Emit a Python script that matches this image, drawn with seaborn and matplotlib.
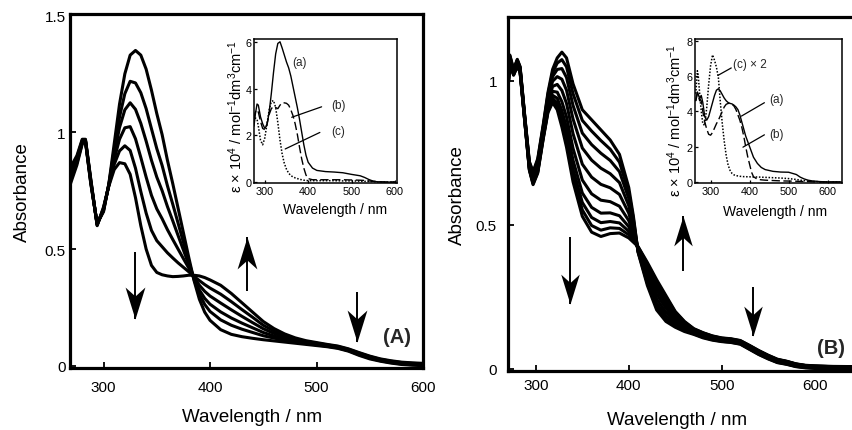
import matplotlib
matplotlib.use("Agg")
import matplotlib.pyplot as plt
from matplotlib.path import Path
import pandas as pd
import seaborn as sns

sns.set_theme(style="ticks")
plt.rcParams["font.family"] = ["Liberation Sans", "DejaVu Sans"]
plt.rcParams["mathtext.fontset"] = "custom"
plt.rcParams["mathtext.rm"] = "Liberation Sans"
plt.rcParams["mathtext.it"] = "Liberation Sans:italic"
plt.rcParams["mathtext.default"] = "regular"

# ---------------- panel (A): absorbance spectra during the reaction ----------------
nm_a = [269, 275, 280, 283, 288, 294, 300, 305, 310, 315, 320, 325, 330, 335, 340,
        345, 350, 355, 360, 365, 370, 375, 380, 385, 390, 395, 400, 410, 420, 430,
        440, 450, 460, 470, 480, 490, 500, 510, 520, 530, 540, 550, 560, 570, 580,
        590, 600]
abs_a0 = [0.78, 0.86, 0.95, 0.96, 0.78, 0.61, 0.66, 0.78, 0.95, 1.12, 1.25, 1.33, 1.35, 1.33, 1.27,
          1.18, 1.08, 0.99, 0.88, 0.78, 0.675, 0.57, 0.465, 0.365, 0.285, 0.23, 0.195, 0.155, 0.135, 0.125,
          0.118, 0.112, 0.107, 0.102, 0.097, 0.092, 0.087, 0.082, 0.075, 0.063, 0.045, 0.030, 0.020, 0.012, 0.006,
          0.003, 0.001]
abs_a1 = [0.795, 0.869, 0.954, 0.962, 0.784, 0.608, 0.664, 0.778, 0.926, 1.065, 1.165, 1.218, 1.211, 1.169, 1.101,
          1.015, 0.930, 0.858, 0.771, 0.692, 0.611, 0.529, 0.448, 0.370, 0.307, 0.263, 0.233, 0.197, 0.174, 0.157,
          0.143, 0.129, 0.119, 0.110, 0.102, 0.096, 0.090, 0.084, 0.077, 0.065, 0.048, 0.033, 0.022, 0.014, 0.008,
          0.005, 0.003]
abs_a2 = [0.808, 0.876, 0.958, 0.964, 0.788, 0.606, 0.668, 0.776, 0.906, 1.020, 1.096, 1.126, 1.098, 1.038, 0.962,
          0.880, 0.808, 0.750, 0.682, 0.621, 0.558, 0.496, 0.434, 0.374, 0.325, 0.289, 0.264, 0.231, 0.205, 0.183,
          0.163, 0.143, 0.128, 0.116, 0.106, 0.098, 0.092, 0.086, 0.079, 0.067, 0.050, 0.035, 0.024, 0.016, 0.010,
          0.007, 0.005]
abs_a3 = [0.822, 0.884, 0.962, 0.966, 0.792, 0.604, 0.672, 0.774, 0.884, 0.970, 1.019, 1.024, 0.972, 0.892, 0.808,
          0.730, 0.672, 0.630, 0.583, 0.541, 0.500, 0.459, 0.419, 0.379, 0.345, 0.319, 0.299, 0.269, 0.240, 0.212,
          0.185, 0.159, 0.139, 0.123, 0.111, 0.102, 0.095, 0.088, 0.081, 0.069, 0.052, 0.037, 0.026, 0.018, 0.012,
          0.009, 0.007]
abs_a4 = [0.836, 0.892, 0.966, 0.968, 0.796, 0.602, 0.676, 0.772, 0.862, 0.920, 0.942, 0.922, 0.846, 0.746, 0.654,
          0.580, 0.536, 0.510, 0.484, 0.462, 0.441, 0.422, 0.403, 0.383, 0.365, 0.348, 0.333, 0.307, 0.275, 0.241,
          0.208, 0.174, 0.149, 0.130, 0.115, 0.105, 0.097, 0.090, 0.083, 0.071, 0.055, 0.040, 0.028, 0.020, 0.014,
          0.011, 0.009]
abs_a5 = [0.85, 0.90, 0.97, 0.97, 0.80, 0.60, 0.68, 0.77, 0.84, 0.87, 0.865, 0.82, 0.72, 0.60, 0.50,
          0.43, 0.40, 0.39, 0.385, 0.382, 0.383, 0.385, 0.388, 0.388, 0.385, 0.378, 0.368, 0.345, 0.31, 0.27,
          0.23, 0.19, 0.16, 0.137, 0.12, 0.108, 0.100, 0.092, 0.085, 0.073, 0.057, 0.042, 0.030, 0.022, 0.016,
          0.013, 0.011]
spectra_a = [abs_a0, abs_a1, abs_a2, abs_a3, abs_a4, abs_a5]

# ---------------- panel (B) ----------------
nm_b = [270, 272, 276, 280, 283, 288, 293, 297, 302, 308, 313, 318, 323, 328, 333,
        340, 350, 360, 370, 380, 390, 400, 405, 410, 420, 430, 440, 450, 460, 470,
        480, 490, 500, 510, 520, 530, 540, 550, 560, 570, 580, 590, 600, 620, 650]
abs_b0 = [1.00, 1.09, 1.04, 1.075, 1.05, 0.88, 0.72, 0.685, 0.73, 0.85, 0.96, 1.04, 1.08, 1.10, 1.08,
          0.99, 0.90, 0.865, 0.83, 0.795, 0.745, 0.63, 0.53, 0.405, 0.29, 0.205, 0.165, 0.145, 0.13, 0.12,
          0.108, 0.100, 0.095, 0.092, 0.086, 0.068, 0.050, 0.035, 0.022, 0.016, 0.008, 0.004, 0.002, 0.000, 0.000]
abs_b1 = [0.997, 1.087, 1.038, 1.073, 1.048, 0.878, 0.717, 0.681, 0.725, 0.845, 0.953, 1.029, 1.062, 1.074, 1.049,
          0.956, 0.863, 0.826, 0.793, 0.763, 0.718, 0.613, 0.521, 0.407, 0.298, 0.216, 0.174, 0.151, 0.134, 0.122,
          0.110, 0.102, 0.096, 0.093, 0.087, 0.069, 0.051, 0.036, 0.023, 0.017, 0.009, 0.005, 0.003, 0.001, 0.001]
abs_b2 = [0.993, 1.083, 1.036, 1.070, 1.046, 0.876, 0.713, 0.675, 0.719, 0.839, 0.945, 1.015, 1.040, 1.043, 1.012,
          0.915, 0.819, 0.779, 0.749, 0.724, 0.685, 0.592, 0.510, 0.409, 0.308, 0.228, 0.185, 0.157, 0.138, 0.124,
          0.112, 0.103, 0.098, 0.095, 0.089, 0.071, 0.053, 0.038, 0.025, 0.018, 0.010, 0.006, 0.004, 0.002, 0.002]
abs_b3 = [0.989, 1.079, 1.033, 1.066, 1.043, 0.873, 0.709, 0.669, 0.712, 0.832, 0.935, 0.999, 1.015, 1.006, 0.968,
          0.868, 0.767, 0.725, 0.697, 0.678, 0.647, 0.567, 0.498, 0.412, 0.319, 0.243, 0.197, 0.165, 0.143, 0.127,
          0.114, 0.105, 0.100, 0.097, 0.091, 0.073, 0.055, 0.040, 0.026, 0.020, 0.012, 0.007, 0.005, 0.003, 0.003]
abs_b4 = [0.985, 1.075, 1.030, 1.062, 1.040, 0.870, 0.705, 0.662, 0.705, 0.825, 0.924, 0.981, 0.988, 0.967, 0.922,
          0.817, 0.711, 0.666, 0.641, 0.629, 0.606, 0.541, 0.484, 0.415, 0.331, 0.259, 0.211, 0.173, 0.148, 0.130,
          0.117, 0.108, 0.102, 0.099, 0.093, 0.075, 0.057, 0.042, 0.028, 0.022, 0.013, 0.009, 0.007, 0.005, 0.004]
abs_b5 = [0.980, 1.070, 1.027, 1.059, 1.037, 0.867, 0.700, 0.655, 0.697, 0.817, 0.914, 0.964, 0.961, 0.928, 0.875,
          0.766, 0.656, 0.608, 0.586, 0.581, 0.565, 0.515, 0.471, 0.418, 0.343, 0.274, 0.224, 0.181, 0.153, 0.133,
          0.120, 0.110, 0.104, 0.101, 0.095, 0.077, 0.059, 0.044, 0.030, 0.023, 0.015, 0.010, 0.008, 0.006, 0.005]
abs_b6 = [0.977, 1.067, 1.024, 1.056, 1.034, 0.864, 0.697, 0.650, 0.691, 0.811, 0.905, 0.950, 0.940, 0.897, 0.838,
          0.725, 0.611, 0.561, 0.541, 0.542, 0.532, 0.494, 0.460, 0.421, 0.352, 0.287, 0.235, 0.188, 0.157, 0.136,
          0.122, 0.112, 0.105, 0.102, 0.096, 0.079, 0.061, 0.045, 0.031, 0.025, 0.016, 0.011, 0.009, 0.007, 0.006]
abs_b7 = [0.974, 1.064, 1.023, 1.053, 1.033, 0.863, 0.694, 0.646, 0.687, 0.807, 0.899, 0.940, 0.923, 0.874, 0.810,
          0.694, 0.578, 0.526, 0.508, 0.512, 0.507, 0.478, 0.452, 0.422, 0.360, 0.296, 0.243, 0.193, 0.160, 0.137,
          0.124, 0.113, 0.106, 0.103, 0.097, 0.080, 0.062, 0.046, 0.032, 0.026, 0.017, 0.012, 0.010, 0.008, 0.007]
abs_b8 = [0.972, 1.062, 1.021, 1.052, 1.031, 0.861, 0.692, 0.643, 0.683, 0.803, 0.894, 0.932, 0.911, 0.856, 0.789,
          0.670, 0.552, 0.498, 0.482, 0.490, 0.488, 0.466, 0.445, 0.424, 0.365, 0.304, 0.250, 0.197, 0.163, 0.139,
          0.125, 0.114, 0.107, 0.104, 0.098, 0.081, 0.063, 0.047, 0.033, 0.026, 0.017, 0.012, 0.010, 0.008, 0.008]
abs_b9 = [0.97, 1.06, 1.02, 1.05, 1.03, 0.86, 0.69, 0.64, 0.68, 0.80, 0.89, 0.925, 0.90, 0.84, 0.77,
          0.65, 0.53, 0.475, 0.46, 0.47, 0.472, 0.455, 0.44, 0.425, 0.37, 0.31, 0.255, 0.20, 0.165, 0.14,
          0.126, 0.115, 0.108, 0.105, 0.099, 0.082, 0.064, 0.048, 0.034, 0.027, 0.018, 0.013, 0.011, 0.009, 0.008]
spectra_b = [abs_b0, abs_b1, abs_b2, abs_b3, abs_b4, abs_b5, abs_b6, abs_b7, abs_b8, abs_b9]

# ---------------- inset (A): molar absorptivity of the species ----------------
nm_ia = [275, 278, 282, 285, 290, 295, 300, 305, 310, 315, 320, 325, 330, 335, 340,
         345, 350, 355, 360, 365, 370, 375, 380, 385, 390, 395, 400, 410, 420, 440,
         460, 480, 500, 520, 530, 540, 550, 560, 580, 600]
eps_ia_a = [2.4, 2.9, 3.35, 3.3, 2.8, 2.5, 2.3, 2.45, 3.0, 3.8, 4.7, 5.5, 5.95, 6.02, 5.75,
            5.45, 5.15, 4.9, 4.55, 4.1, 3.65, 3.2, 2.7, 2.15, 1.6, 1.15, 0.85, 0.6, 0.5, 0.45,
            0.43, 0.4, 0.33, 0.27, 0.2, 0.11, 0.04, 0.01, 0.0, 0.0]
eps_ia_b = [2.7, 3.0, 3.1, 3.0, 2.6, 2.3, 2.25, 2.5, 2.9, 3.15, 3.25, 3.2, 3.15, 3.3, 3.4,
            3.4, 3.38, 3.3, 3.1, 2.85, 2.5, 2.05, 1.5, 1.0, 0.6, 0.3, 0.15, 0.1, 0.1, 0.1,
            0.1, 0.1, 0.09, 0.08, 0.07, 0.05, 0.03, 0.02, 0.0, 0.0]
eps_ia_c = [2.6, 2.75, 2.7, 2.4, 1.8, 1.6, 1.9, 2.5, 3.1, 3.45, 3.5, 3.2, 2.55, 1.8, 1.2,
            0.8, 0.55, 0.38, 0.28, 0.22, 0.18, 0.15, 0.12, 0.1, 0.08, 0.07, 0.06, 0.06, 0.06, 0.06,
            0.06, 0.05, 0.05, 0.04, 0.03, 0.03, 0.02, 0.01, 0.0, 0.0]

# ---------------- inset (B) ----------------
nm_ib = [262, 266, 268, 272, 276, 280, 285, 290, 295, 300, 305, 310, 315, 320, 325,
         330, 335, 340, 345, 350, 355, 360, 365, 370, 375, 380, 385, 390, 395, 400,
         405, 410, 420, 430, 440, 460, 480, 500, 520, 530, 540, 550, 560, 580, 600,
         620, 636]
eps_ib_a = [4.6, 5.1, 5.0, 4.7, 4.9, 4.5, 3.7, 3.5, 3.7, 4.1, 4.5, 4.9, 5.2, 5.28, 5.15,
            4.95, 4.75, 4.6, 4.5, 4.45, 4.42, 4.35, 4.25, 4.1, 3.8, 3.4, 3.0, 2.6, 2.3, 2.0,
            1.7, 1.4, 1.05, 0.82, 0.7, 0.6, 0.56, 0.55, 0.42, 0.27, 0.17, 0.1, 0.06, 0.02, 0.0,
            0.0, 0.0]
eps_ib_b = [4.6, 5.0, 4.9, 4.6, 4.6, 4.0, 3.4, 3.0, 2.7, 2.65, 2.8, 3.05, 3.3, 3.5, 3.75,
            4.0, 4.25, 4.4, 4.45, 4.45, 4.4, 4.3, 4.1, 3.8, 3.5, 3.1, 2.6, 2.0, 1.45, 1.0,
            0.55, 0.3, 0.15, 0.12, 0.1, 0.08, 0.06, 0.05, 0.04, 0.03, 0.02, 0.02, 0.01, 0.0, 0.0,
            0.0, 0.0]
eps_ib_c2 = [5.0, 6.3, 6.1, 5.0, 4.0, 3.3, 3.2, 4.2, 5.5, 6.6, 7.2, 6.9, 6.5, 5.9, 4.5,
             3.3, 2.3, 1.5, 0.95, 0.65, 0.48, 0.4, 0.36, 0.34, 0.32, 0.31, 0.3, 0.3, 0.29, 0.29,
             0.28, 0.28, 0.28, 0.27, 0.26, 0.24, 0.22, 0.19, 0.14, 0.1, 0.07, 0.05, 0.03, 0.01, 0.0,
             0.0, 0.0]

# tick positions and labels
wl_ticks = [300, 400, 500, 600]
abs_ticks_a = [0, 0.5, 1, 1.5]
abs_labels_a = ["0", "0.5", "1", "1.5"]
abs_ticks_b = [0, 0.5, 1]
abs_labels_b = ["0", "0.5", "1"]
eps_ticks_a = [0, 2, 4, 6]
eps_ticks_b = [0, 2, 4, 6, 8]

# arrows showing the direction of change: (wavelength, start, end)
arrows_a = [(329.5, 0.488, 0.201), (434.7, 0.321, 0.552), (538.0, 0.317, 0.103)]
arrows_b = [(336.7, 0.458, 0.226), (458.0, 0.340, 0.531), (533.4, 0.285, 0.115)]

EPS_LABEL = "ε × 10$^4$ / mol$^{-1}$dm$^3$cm$^{-1}$"

# notched (stealth) arrow heads, tip at the origin
_codes = [Path.MOVETO, Path.LINETO, Path.LINETO, Path.LINETO, Path.CLOSEPOLY]
HEAD_DOWN = Path([(0, 0), (-0.31, 1.0), (0, 0.72), (0.31, 1.0), (0, 0)], _codes)
HEAD_UP = Path([(0, 0), (-0.31, -1.0), (0, -0.72), (0.31, -1.0), (0, 0)], _codes)


def long_form(nm, curves):
    frames = [pd.DataFrame({"nm": nm, "A": vals, "run": k}) for k, vals in enumerate(curves)]
    return pd.concat(frames, ignore_index=True)


def style_main(ax, xpad, ypad):
    for sp in ax.spines.values():
        sp.set_linewidth(2.3)
        sp.set_color("black")
    ax.tick_params(direction="in", length=4, width=1.3, colors="black", labelsize=11)
    ax.tick_params(axis="x", pad=xpad)
    ax.tick_params(axis="y", pad=ypad)
    ax.set_xticks(wl_ticks)
    ax.set_xticklabels([str(t) for t in wl_ticks])


def style_inset(ax):
    for sp in ax.spines.values():
        sp.set_linewidth(1.1)
        sp.set_color("black")
    ax.tick_params(direction="in", length=2.5, width=0.9, colors="black", labelsize=7.8)
    ax.tick_params(axis="x", pad=2.5)
    ax.tick_params(axis="y", pad=1.5)
    ax.set_xticks(wl_ticks)
    ax.set_xticklabels([str(t) for t in wl_ticks])


def draw_arrows(ax, arrows, size):
    for x, y0, y1 in arrows:
        ax.plot([x, x], [y0, y1], color="black", lw=1.4, solid_capstyle="butt")
        head = HEAD_DOWN if y1 < y0 else HEAD_UP
        ax.plot([x], [y1], marker=head, markersize=size, color="black",
                markeredgewidth=0, linestyle="none")


fig = plt.figure(figsize=(8.52, 4.31), dpi=100)
W, H = 852.0, 431.0

ax_a = fig.add_axes([70 / W, 1 - 369 / H, 353 / W, 354 / H])
ax_b = fig.add_axes([508 / W, 1 - 372 / H, 353 / W, 354 / H])
ins_a = fig.add_axes([254 / W, 1 - 184 / H, 143 / W, 144 / H])
ins_b = fig.add_axes([695 / W, 1 - 184 / H, 147 / W, 144 / H])

# main spectra
sns.lineplot(data=long_form(nm_a, spectra_a), x="nm", y="A", units="run", estimator=None,
             color="black", lw=2.2, sort=False, legend=False, ax=ax_a)
sns.lineplot(data=long_form(nm_b, spectra_b), x="nm", y="A", units="run", estimator=None,
             color="black", lw=2.2, sort=False, legend=False, ax=ax_b)

ax_a.set_xlim(268.5, 600)
ax_a.set_ylim(-0.009, 1.506)
ax_b.set_xlim(270, 650)
ax_b.set_ylim(-0.007, 1.222)

style_main(ax_a, xpad=9, ypad=3)
style_main(ax_b, xpad=5, ypad=8)
ax_a.set_yticks(abs_ticks_a)
ax_a.set_yticklabels(abs_labels_a)
ax_b.set_yticks(abs_ticks_b)
ax_b.set_yticklabels(abs_labels_b)

for ax, xl, yl in [(ax_a, (0.516, -0.138), (-0.136, 0.5)),
                   (ax_b, (0.479, -0.136), (-0.142, 0.5))]:
    ax.set_xlabel("Wavelength / nm", fontsize=13.5, color="black", va="center")
    ax.set_ylabel("Absorbance", fontsize=13.5, color="black", va="center")
    ax.xaxis.set_label_coords(*xl)
    ax.yaxis.set_label_coords(*yl)

draw_arrows(ax_a, arrows_a, 46)
draw_arrows(ax_b, arrows_b, 43)
ax_a.text(575.5, 0.124, "(A)", fontsize=14.5, fontweight="bold", ha="center", va="center")
ax_b.text(618, 0.076, "(B)", fontsize=14.5, fontweight="bold", ha="center", va="center")

# inset A
sns.lineplot(x=nm_ia, y=eps_ia_a, color="black", lw=1.0, ax=ins_a)
sns.lineplot(x=nm_ia, y=eps_ia_b, color="black", lw=1.0, ax=ins_a, linestyle=(0, (6, 2.5)))
sns.lineplot(x=nm_ia, y=eps_ia_c, color="black", lw=1.1, ax=ins_a, linestyle=(0, (1, 1.1)))
ins_a.set_xlim(275, 605)
ins_a.set_ylim(-0.04, 6.14)
style_inset(ins_a)
ins_a.set_yticks(eps_ticks_a)
ins_a.set_yticklabels([str(t) for t in eps_ticks_a])
ins_a.text(381, 5.14, "(a)", fontsize=8.5, ha="center", va="center")
ins_a.text(470, 3.3, "(b)", fontsize=8.5, ha="center", va="center")
ins_a.text(470, 2.2, "(c)", fontsize=8.5, ha="center", va="center")
ins_a.plot([362, 431], [2.78, 3.23], color="black", lw=0.9)
ins_a.plot([347, 427], [1.42, 2.13], color="black", lw=0.9)

# inset B
sns.lineplot(x=nm_ib, y=eps_ib_a, color="black", lw=1.0, ax=ins_b)
sns.lineplot(x=nm_ib, y=eps_ib_b, color="black", lw=1.0, ax=ins_b, linestyle=(0, (6, 2.5)))
sns.lineplot(x=nm_ib, y=eps_ib_c2, color="black", lw=1.1, ax=ins_b, linestyle=(0, (1, 1.1)))
ins_b.set_xlim(260, 637)
ins_b.set_ylim(-0.06, 8.1)
style_inset(ins_b)
ins_b.set_yticks(eps_ticks_b)
ins_b.set_yticklabels([str(t) for t in eps_ticks_b])
ins_b.text(468, 4.7, "(a)", fontsize=8.5, ha="center", va="center")
ins_b.text(468, 2.73, "(b)", fontsize=8.5, ha="center", va="center")
ins_b.text(402, 6.7, "(c) × 2", fontsize=8.5, ha="center", va="center")
ins_b.plot([379, 438], [3.73, 4.49], color="black", lw=0.9)
ins_b.plot([383, 438], [1.97, 2.67], color="black", lw=0.9)
ins_b.plot([319, 353], [6.04, 6.46], color="black", lw=0.9)

for ax, xl, yl in [(ins_a, (0.566, -0.18), (-0.128, 0.47)),
                   (ins_b, (0.544, -0.194), (-0.135, 0.44))]:
    ax.set_xlabel("Wavelength / nm", fontsize=10, color="black", va="center")
    ax.set_ylabel(EPS_LABEL, fontsize=10.5, color="black", va="center")
    ax.xaxis.set_label_coords(*xl)
    ax.yaxis.set_label_coords(*yl)

fig.savefig("out.png", dpi=100, facecolor="white")
